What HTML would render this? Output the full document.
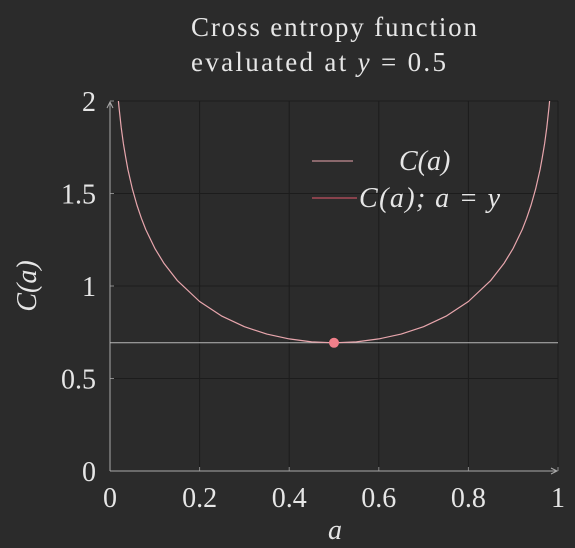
<!DOCTYPE html>
<html><head><meta charset="utf-8"><style>
body{margin:0;background:#2b2b2b;}
svg{display:block;font-family:"Liberation Serif",serif;}
</style></head><body>
<svg id="chart" width="575" height="548">
<rect width="575" height="548" fill="#2b2b2b"/>
<text x="191" y="36" fill="#e6e6e6" font-size="27" textLength="286">Cross entropy function</text>
<text x="191" y="71" fill="#e6e6e6" font-size="27" textLength="255">evaluated at <tspan font-style="italic">y</tspan> = 0.5</text>
<g id="grid"></g><g id="axes"></g><g id="series"></g>
<g>
<line x1="312" y1="161" x2="353" y2="161" stroke="#e8a6ad" stroke-width="1"/>
<text x="399" y="170" fill="#e6e6e6" font-size="28" font-style="italic">C(a)</text>
<line x1="312" y1="198" x2="357" y2="198" stroke="#c05060" stroke-width="1.2"/>
<text x="359" y="207" fill="#e6e6e6" font-size="28" font-style="italic" textLength="141">C(a); a = y</text>
</g>
<text x="335" y="539" fill="#e6e6e6" font-size="28" font-style="italic" text-anchor="middle">a</text>
<text transform="translate(36,286) rotate(-90)" fill="#e6e6e6" font-size="28" font-style="italic" text-anchor="middle">C(a)</text>
</svg>
<script>
const aVals=[0.018,0.02,0.025,0.03,0.035,0.04,0.05,0.06,0.07,0.08,0.1,0.12,0.15,0.2,0.25,0.3,0.35,0.4,0.45,0.5,0.55,0.6,0.65,0.7,0.75,0.8,0.85,0.88,0.9,0.92,0.93,0.94,0.95,0.96,0.965,0.97,0.975,0.98,0.982];
const cVals=[2.018,1.966,1.857,1.769,1.695,1.630,1.524,1.438,1.366,1.305,1.204,1.124,1.030,0.916,0.837,0.780,0.740,0.714,0.698,0.693,0.698,0.714,0.740,0.780,0.837,0.916,1.030,1.124,1.204,1.305,1.366,1.438,1.524,1.630,1.695,1.769,1.857,1.966,2.018];
const minA=[0.5];
const minC=[0.693];
const xTicks=[0,0.2,0.4,0.6,0.8,1];
const xTickLabels=["0","0.2","0.4","0.6","0.8","1"];
const yTicks=[0,0.5,1,1.5,2];
const yTickLabels=["0","0.5","1","1.5","2"];
const NS="http://www.w3.org/2000/svg";
const X=v=>110+v*448, Y=v=>471-v*185;
function mk(t,a,p){const e=document.createElementNS(NS,t);for(const k in a)e.setAttribute(k,a[k]);p.appendChild(e);return e;}
const grid=document.getElementById('grid'),axes=document.getElementById('axes'),ser=document.getElementById('series');
xTicks.forEach((v,i)=>{
 const g=mk('line',{x1:X(v),x2:X(v),y1:101,y2:471,stroke:'#1c1c1c','stroke-width':1},grid);
 
 
 const t=mk('text',{x:X(v),y:507,fill:'#e6e6e6','font-size':28,'text-anchor':'middle'},axes);t.textContent=xTickLabels[i];
 
 
 const k=mk('line',{x1:X(v),x2:X(v),y1:467,y2:471,stroke:'#888'},axes);
 
 
});
yTicks.forEach((v,i)=>{
 const g=mk('line',{x1:110,x2:558,y1:Y(v),y2:Y(v),stroke:'#1c1c1c','stroke-width':1},grid);
 
 
 const t=mk('text',{x:96,y:Y(v)+10,fill:'#e6e6e6','font-size':28,'text-anchor':'end'},axes);t.textContent=yTickLabels[i];
 
 
 const k=mk('line',{x1:110,x2:114,y1:Y(v),y2:Y(v),stroke:'#888'},axes);
 
 
});
const xa=mk('path',{d:'M110 471H556M551 468L557 471L551 474',stroke:'#aaa',fill:'none'},axes);


const ya=mk('path',{d:'M110 471V103M107 108L110 102L113 108',stroke:'#aaa',fill:'none'},axes);


const cp=mk('clipPath',{id:'clip'},ser);mk('rect',{x:110,y:101,width:448,height:370},cp);
const hl=mk('line',{x1:X(0),x2:X(1),y1:Y(minC[0]),y2:Y(minC[0]),stroke:'#b8b8b8','stroke-width':1},ser);


const d=aVals.map((a,i)=>(i?'L':'M')+X(a).toFixed(1)+' '+Y(cVals[i]).toFixed(1)).join('');
const cu=mk('path',{d:d,stroke:'#e8a6ad',fill:'none','stroke-width':1.2,'stroke-linejoin':'round','clip-path':'url(#clip)'},ser);


minA.forEach((a,i)=>{
 const c=mk('circle',{cx:X(a),cy:Y(minC[i]),r:5,fill:'#f07f8a'},ser);
 
 
});
</script>
</body></html>
